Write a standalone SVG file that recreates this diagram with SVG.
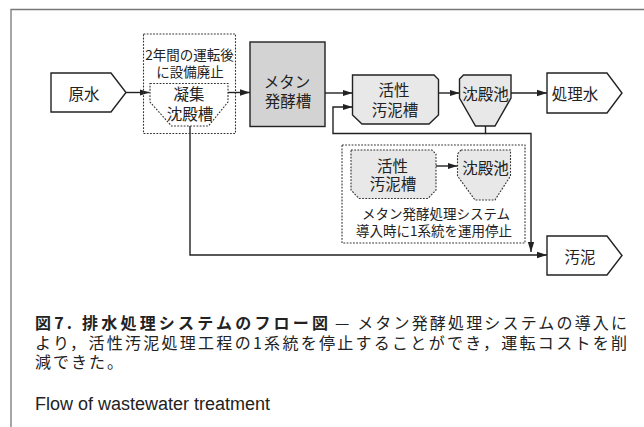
<svg xmlns="http://www.w3.org/2000/svg" width="644" height="427" viewBox="0 0 644 427">
<style>
.sh{stroke:#222;stroke-width:1.4;stroke-linejoin:miter}
.dsh{stroke:#333;stroke-width:1.1;stroke-dasharray:1.8 1.4}
.w{fill:#fff}
.g1{fill:#d3d3d3}
.g2{fill:#e8e8e8}
.none{fill:none}
.t{font-family:"Noto Sans CJK JP","Noto Sans",sans-serif;fill:#222;text-anchor:middle;dominant-baseline:central}
.n{font-size:15.5px}
.s{font-size:13.5px}
.cap{font-family:"Noto Sans CJK JP",sans-serif;fill:#222;font-size:16px}
.con{fill:none;stroke:#222;stroke-width:1.4}
</style>
<defs>
<marker id="ah" markerWidth="10" markerHeight="8" refX="10" refY="4" orient="auto" markerUnits="userSpaceOnUse">
<path d="M0,0.8 L10,4 L0,7.2 z" fill="#222"/>
</marker>
</defs>
<rect width="644" height="427" fill="#fff"/>
<path d="M644,9.5 H11 V427" fill="none" stroke="#777" stroke-width="1.3"/>

<g id="connectors">
<path class="con" d="M126,92.5 H149.5" marker-end="url(#ah)"/>
<path class="con" d="M228,92.5 H250" marker-end="url(#ah)"/>
<path class="con" d="M325,93 H352.5" marker-end="url(#ah)"/>
<path class="con" d="M438.5,93 H459.5" marker-end="url(#ah)"/>
<path class="con" d="M511,93 H547" marker-end="url(#ah)"/>
<path class="con" d="M485.5,126 V133.5 H333 V107 H352.5" marker-end="url(#ah)"/>
<path class="con" d="M485.5,133.5 H531 V252" marker-end="url(#ah)"/>
<path class="con" d="M190,126 V255 H547" marker-end="url(#ah)"/>
<path class="con" d="M436,166 H457.5" marker-end="url(#ah)"/>
</g>

<g id="raw-water">
<polygon class="sh w" points="51,73 111,73 126,92.5 111,112 51,112"/>
<text class="t n" x="84" y="93">原水</text>
</g>

<g id="coag-group">
<rect class="dsh none" x="143.5" y="34" width="92" height="99.5"/>
<text class="t s" x="189.5" y="53.5">2年間の運転後</text>
<text class="t s" x="190" y="71">に設備廃止</text>
</g>

<g id="coag-tank">
<polygon class="dsh w" points="150,83.5 228,83.5 228,102 208.5,126 171.5,126 150,102"/>
<text class="t n" x="189" y="93">凝集</text>
<text class="t n" x="190" y="112.5">沈殿槽</text>
</g>

<g id="methane">
<rect class="sh g1" x="250" y="42" width="75" height="84.5"/>
<text class="t n" x="287" y="80.5">メタン</text>
<text class="t n" x="288" y="99.5">発酵槽</text>
</g>

<g id="activated-sludge">
<polygon class="sh g2" points="352.5,75 434,75 438.5,79.5 438.5,115 429,124 362,124 352.5,115"/>
<text class="t n" x="394" y="89">活性</text>
<text class="t n" x="395" y="109">汚泥槽</text>
</g>

<g id="settling">
<polygon class="sh g2" points="463.5,75 511,75 511,98 495,126 475.5,126 459.5,98 459.5,79"/>
<text class="t n" x="485.5" y="93">沈殿池</text>
</g>

<g id="treated-water">
<polygon class="sh w" points="547,73 607,73 622,93 607,113 547,113"/>
<text class="t n" x="575" y="93">処理水</text>
</g>

<g id="stopped-group">
<rect class="dsh none" x="342" y="145" width="183" height="98"/>
<text class="t s" x="436" y="213">メタン発酵処理システム</text>
<text class="t s" x="434" y="230">導入時に1系統を運用停止</text>
</g>

<g id="stopped-as">
<polygon class="dsh g2" points="351,150 432,150 436,154 436,190 428,198.5 359,198.5 351,190"/>
<text class="t n" x="392.5" y="165">活性</text>
<text class="t n" x="393" y="183">汚泥槽</text>
</g>

<g id="stopped-settling">
<polygon class="dsh g2" points="461,150 510.5,150 510.5,176 495,200 475,200 457.5,176 457.5,154"/>
<text class="t n" x="485.5" y="167">沈殿池</text>
</g>

<g id="sludge">
<polygon class="sh w" points="547,236 607,236 622,255.5 607,275 547,275"/>
<text class="t n" x="580" y="255.5">汚泥</text>
</g>

<g id="caption">
<text class="cap" x="35" y="329" font-weight="bold" textLength="293" lengthAdjust="spacing">図7. 排水処理システムのフロー図</text>
<text class="cap" x="335" y="329" textLength="292" lengthAdjust="spacing">— メタン発酵処理システムの導入に</text>
<text class="cap" x="35" y="349" textLength="592" lengthAdjust="spacing">より，活性汚泥処理工程の1系統を停止することができ，運転コストを削</text>
<text class="cap" x="35" y="368" letter-spacing="2">減できた。</text>
<text x="35" y="410" font-family="'Liberation Sans',Arial,sans-serif" font-size="18" fill="#222">Flow of wastewater treatment</text>
</g>
</svg>
